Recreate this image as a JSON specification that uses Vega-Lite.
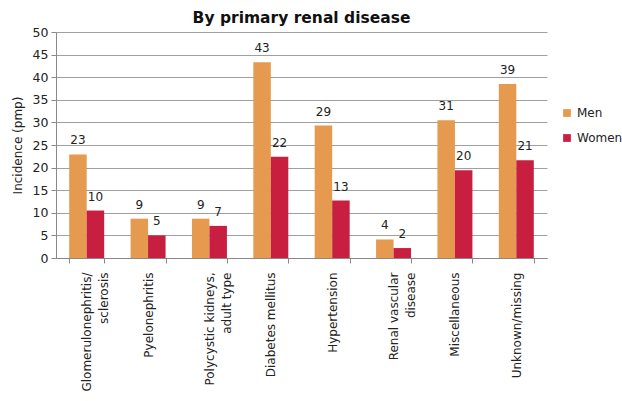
{
  "$schema": "https://vega.github.io/schema/vega-lite/v6.json",
  "autosize": {"type": "none"},
  "padding": {"left": 56, "top": 32, "right": 75, "bottom": 143},
  "width": 491,
  "height": 226,
  "background": "white",
  "title": {"text": "By primary renal disease", "font": "DejaVu Sans", "fontSize": 15.5, "fontWeight": "bold", "color": "#111111", "offset": 0, "anchor": "middle"},
  "data": {"values": [
    {"disease": "Glomerulonephritis/sclerosis", "sex": "Men", "value": 22.9, "label": "23"},
    {"disease": "Glomerulonephritis/sclerosis", "sex": "Women", "value": 10.5, "label": "10"},
    {"disease": "Pyelonephritis", "sex": "Men", "value": 8.7, "label": "9"},
    {"disease": "Pyelonephritis", "sex": "Women", "value": 5.0, "label": "5"},
    {"disease": "Polycystic kidneys, adult type", "sex": "Men", "value": 8.7, "label": "9"},
    {"disease": "Polycystic kidneys, adult type", "sex": "Women", "value": 7.1, "label": "7"},
    {"disease": "Diabetes mellitus", "sex": "Men", "value": 43.3, "label": "43"},
    {"disease": "Diabetes mellitus", "sex": "Women", "value": 22.4, "label": "22"},
    {"disease": "Hypertension", "sex": "Men", "value": 29.3, "label": "29"},
    {"disease": "Hypertension", "sex": "Women", "value": 12.7, "label": "13"},
    {"disease": "Renal vascular disease", "sex": "Men", "value": 4.1, "label": "4"},
    {"disease": "Renal vascular disease", "sex": "Women", "value": 2.2, "label": "2"},
    {"disease": "Miscellaneous", "sex": "Men", "value": 30.5, "label": "31"},
    {"disease": "Miscellaneous", "sex": "Women", "value": 19.4, "label": "20"},
    {"disease": "Unknown/missing", "sex": "Men", "value": 38.5, "label": "39"},
    {"disease": "Unknown/missing", "sex": "Women", "value": 21.6, "label": "21"}
  ]},
  "encoding": {
    "x": {"field": "disease", "type": "nominal", "sort": null,
      "scale": {"paddingInner": 0.43, "paddingOuter": 0.215},
      "axis": {"title": null, "labelAngle": 270, "labelAlign": "right", "labelBaseline": "middle",
        "labelFont": "DejaVu Sans", "labelFontSize": 12, "labelColor": "#222222", "labelLineHeight": 17,
        "labelPadding": 9, "tickBand": "extent", "tickSize": 5, "tickColor": "#888888", "domainColor": "#888888",
        "labelExpr": "datum.value == 'Glomerulonephritis/sclerosis' ? ['Glomerulonephritis/', 'sclerosis'] : datum.value == 'Polycystic kidneys, adult type' ? ['Polycystic kidneys,', 'adult type'] : datum.value == 'Renal vascular disease' ? ['Renal vascular', 'disease'] : datum.value"}},
    "xOffset": {"field": "sex", "type": "nominal", "scale": {"paddingInner": 0, "paddingOuter": 0}},
    "y": {"field": "value", "type": "quantitative",
      "scale": {"domain": [0, 50]},
      "axis": {"title": "Incidence (pmp)", "titleFont": "DejaVu Sans", "titleFontSize": 12, "titleFontWeight": "normal", "titleColor": "#222222", "titlePadding": 8,
        "values": [0,5,10,15,20,25,30,35,40,45,50], "labelFont": "DejaVu Sans", "labelFontSize": 12.5, "labelColor": "#222222",
        "gridColor": "#A0A0A0", "gridWidth": 1, "tickColor": "#888888", "tickSize": 5, "domainColor": "#888888", "labelPadding": 3}},
    "color": {"field": "sex", "type": "nominal",
      "scale": {"domain": ["Men", "Women"], "range": ["#E59A50", "#C81E40"]},
      "legend": {"title": null, "orient": "none", "legendX": 505, "legendY": 75, "symbolType": "square", "symbolSize": 60,
        "labelFont": "DejaVu Sans", "labelFontSize": 12, "labelColor": "#222222", "rowPadding": 13, "labelOffset": 4, "symbolStrokeWidth": 0}}
  },
  "layer": [
    {"mark": {"type": "bar"}},
    {"mark": {"type": "text", "dy": -14, "font": "DejaVu Sans", "fontSize": 12, "color": "#222222"},
     "encoding": {"text": {"field": "label"}, "color": {"value": "#222222"}}}
  ],
  "config": {"view": {"stroke": null}, "axis": {"grid": false}, "axisY": {"grid": true}}
}
